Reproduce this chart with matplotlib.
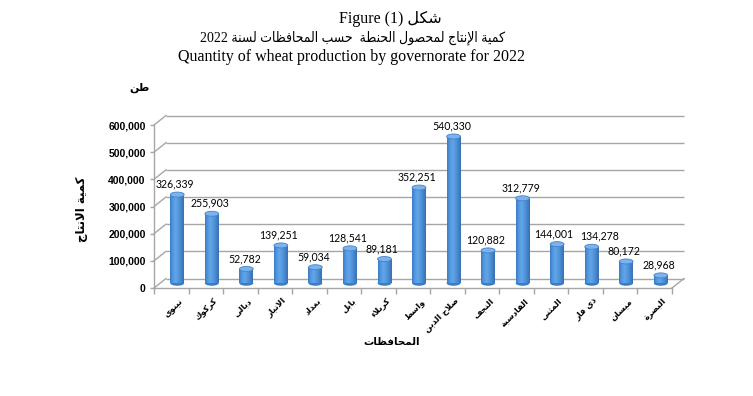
import re
import numpy as np
import matplotlib
matplotlib.use("Agg")
import matplotlib.pyplot as plt
from matplotlib.transforms import ScaledTranslation
from matplotlib.patches import Ellipse
from matplotlib.colors import LinearSegmentedColormap

# ---------------- data ----------------
governorates = ["نينوى", "كركوك", "ديالى", "الانبار", "بغداد", "بابل", "كربلاء",
                "واسط", "صلاح الدين", "النجف", "القادسية", "المثنى", "ذي قار",
                "ميسان", "البصرة"]
production = [326339, 255903, 52782, 139251, 59034, 128541, 89181, 352251,
              540330, 120882, 312779, 144001, 134278, 80172, 28968]
y_ticks = [0, 100000, 200000, 300000, 400000, 500000, 600000]
title_line1_ltr = "Figure (1) "
title_line1_ar = "شكل"
title_line2 = "كمية الإنتاج لمحصول الحنطة  حسب المحافظات لسنة 2022"
title_line3 = "Quantity of wheat production by governorate for 2022"
unit_label = "طن"
y_label = "كمية الانتاج"
x_label = "المحافظات"

# ---------------- simple Arabic shaping (presentation forms) ----------------
DUAL = {'ئ': 0xFE89, 'ب': 0xFE8F, 'ت': 0xFE95, 'ث': 0xFE99, 'ج': 0xFE9D, 'ح': 0xFEA1,
        'خ': 0xFEA5, 'س': 0xFEB1, 'ش': 0xFEB5, 'ص': 0xFEB9, 'ض': 0xFEBD, 'ط': 0xFEC1,
        'ظ': 0xFEC5, 'ع': 0xFEC9, 'غ': 0xFECD, 'ف': 0xFED1, 'ق': 0xFED5, 'ك': 0xFED9,
        'ل': 0xFEDD, 'م': 0xFEE1, 'ن': 0xFEE5, 'ه': 0xFEE9, 'ي': 0xFEF1}
RIGHT = {'آ': 0xFE81, 'أ': 0xFE83, 'ؤ': 0xFE85, 'إ': 0xFE87, 'ا': 0xFE8D, 'ة': 0xFE93,
         'د': 0xFEA9, 'ذ': 0xFEAB, 'ر': 0xFEAD, 'ز': 0xFEAF, 'و': 0xFEED, 'ى': 0xFEEF}
NONJ = {'ء': 0xFE80}
LAMALEF = {'آ': 0xFEF5, 'أ': 0xFEF7, 'إ': 0xFEF9, 'ا': 0xFEFB}


def _shape(s):
    toks = []
    i = 0
    while i < len(s):
        c = s[i]
        if c == 'ل' and i + 1 < len(s) and s[i + 1] in LAMALEF:
            toks.append(('LA', s[i + 1]))
            i += 2
        else:
            toks.append(('C', c))
            i += 1

    def joins_next(t):
        return t[0] == 'C' and t[1] in DUAL

    def accepts(t):
        return t[0] == 'LA' or t[1] in DUAL or t[1] in RIGHT

    out = []
    for j, (k, c) in enumerate(toks):
        pj = j > 0 and joins_next(toks[j - 1])
        nj = j + 1 < len(toks) and accepts(toks[j + 1])
        if k == 'LA':
            out.append(chr(LAMALEF[c] + (1 if pj else 0)))
        elif c in DUAL:
            b = DUAL[c]
            if pj and nj:
                out.append(chr(b + 3))
            elif pj:
                out.append(chr(b + 1))
            elif nj:
                out.append(chr(b + 2))
            else:
                out.append(chr(b))
        elif c in RIGHT:
            out.append(chr(RIGHT[c] + (1 if pj else 0)))
        elif c in NONJ:
            out.append(chr(NONJ[c]))
        else:
            out.append(c)
    return ''.join(out)


def ar(s):
    shaped = _shape(s)
    toks = re.findall(r'[0-9A-Za-z().,]+|[^0-9A-Za-z().,]', shaped)
    return ''.join(reversed(toks))


# ---------------- figure ----------------
W, H, DPI = 753, 396, 100
fig = plt.figure(figsize=(W / DPI, H / DPI), dpi=DPI)
fig.patch.set_facecolor("white")

ax_l, ax_r, ax_b, ax_t = 154, 672, 288, 125  # pixel frame of the front plane
ax = fig.add_axes([ax_l / W, 1 - ax_b / H, (ax_r - ax_l) / W, (ax_b - ax_t) / H])
n = len(governorates)
ax.set_xlim(0, n)
ax.set_ylim(0, 600000)
ax.set_facecolor("none")

GRID = "#A6A6A6"
DXP, DYP = 12.0, 9.5  # depth of the 3D box, in pixels
px_x = (ax_r - ax_l) / n
px_y = (ax_b - ax_t) / 600000
DX, DY = DXP / px_x, DYP / px_y

back = ax.transData + ScaledTranslation(DXP / DPI, DYP / DPI, fig.dpi_scale_trans)
mid = ax.transData + ScaledTranslation(DXP / 2 / DPI, DYP / 2 / DPI, fig.dpi_scale_trans)

# back wall gridlines
ax.hlines(y_ticks, 0, n, colors=GRID, lw=1.0, transform=back, clip_on=False, zorder=1)
# left wall diagonals
for yv in y_ticks:
    ax.plot([0, DX], [yv, yv + DY], color=GRID, lw=1.0, clip_on=False, zorder=1)
# floor right edge
ax.plot([n, n + DX], [0, DY], color=GRID, lw=1.0, clip_on=False, zorder=1)

# spines
for s in ["top", "right"]:
    ax.spines[s].set_visible(False)
for s in ["left", "bottom"]:
    ax.spines[s].set_color(GRID)
    ax.spines[s].set_linewidth(1.0)

# y axis
ax.set_yticks(y_ticks)
ax.set_yticklabels([f"{v:,}" for v in y_ticks], fontfamily="Liberation Sans",
                   fontweight="bold", fontsize=7.5)
ax.tick_params(axis="y", length=3, width=1.0, color=GRID, pad=3)

# x axis
centers = np.arange(n) + 0.5
ax.set_xticks(np.arange(n + 1), minor=True)
ax.tick_params(axis="x", which="minor", length=4, width=1.0, color=GRID)
ax.set_xticks(centers)
ax.set_xticklabels([ar(g) for g in governorates], rotation=45, ha="right",
                   va="top", rotation_mode="anchor",
                   fontfamily="DejaVu Sans", fontweight="bold", fontsize=6.0)
ax.tick_params(axis="x", which="major", length=0, pad=6)
for lab in ax.get_xticklabels():
    lab.set_transform(lab.get_transform() + ScaledTranslation(7 / DPI, 0, fig.dpi_scale_trans))

# ---------------- cylinders ----------------
bw = 0.40
eh = 5.0 / px_y  # ellipse height in data units
cyl = LinearSegmentedColormap.from_list(
    "cyl", ["#3B7CC4", "#5298E0", "#62A6EA", "#5597DD", "#4585CB", "#3870B2"])
grad = np.linspace(0, 1, 64).reshape(1, -1)

bars = ax.bar(centers, production, width=bw, color="#5298E0", transform=mid,
              zorder=3, linewidth=0, clip_on=False)
label_nudge = [0, 0, 0, 0, 0, 0, 0, 0, 0, 0, 0, -1, 7, 0, 0]  # points
for x, v, b, nd in zip(centers, production, bars, label_nudge):
    ax.add_patch(Ellipse((x, 0), bw, eh, transform=mid, facecolor="#3B7CC4",
                         edgecolor="none", zorder=2.9, clip_on=False))
    im = ax.imshow(grad, cmap=cyl, aspect="auto", extent=[x - bw / 2, x + bw / 2, 0, v],
                   transform=mid, zorder=3.1, interpolation="bilinear")
    im.set_clip_path(b)
    ax.add_patch(Ellipse((x, v), bw, eh, transform=mid, facecolor="#7CB3EE",
                         edgecolor="#4583C8", lw=0.6, zorder=3.2, clip_on=False))
    ax.annotate(f"{v:,}", xy=(x, v), xycoords=mid, xytext=(-1.5 + nd, 7.5),
                textcoords="offset points", ha="center", va="center",
                fontfamily="Lato", fontsize=7.6, color="black", zorder=4)

ax.set_xlim(0, n)
ax.set_ylim(0, 600000)

# ---------------- titles / labels ----------------
tfam = ["Liberation Serif", "DejaVu Sans"]
fig.text(390 / W, 1 - 19 / H, title_line1_ltr + ar(title_line1_ar), ha="center",
         va="center", fontfamily=tfam, fontsize=11.5)
fig.text(353 / W, 1 - 38 / H, ar(title_line2), ha="center", va="center",
         fontfamily=tfam, fontsize=10, fontstretch="condensed")
fig.text(352 / W, 1 - 57 / H, title_line3, ha="center", va="center",
         fontfamily=tfam, fontsize=11.5)

fig.text(140 / W, 1 - 88 / H, ar(unit_label), ha="center", va="center",
         fontfamily="DejaVu Sans", fontweight="bold", fontsize=8)
fig.text(82 / W, 1 - 209 / H, ar(y_label), ha="center", va="center", rotation=90,
         fontfamily="DejaVu Sans", fontweight="bold", fontsize=8.5)
fig.text(392 / W, 1 - 342 / H, ar(x_label), ha="center", va="center",
         fontfamily="DejaVu Sans", fontweight="bold", fontsize=7.5)

fig.savefig("out.png", dpi=DPI, facecolor="white")
